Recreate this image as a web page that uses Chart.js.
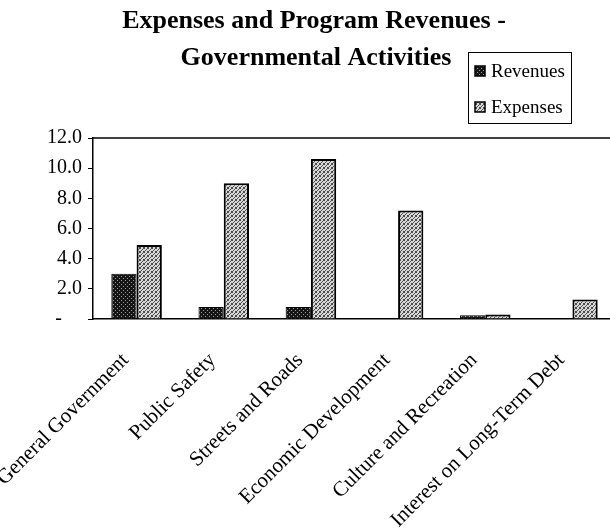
<!DOCTYPE html>
<html>
<head>
<meta charset="utf-8">
<script src="https://cdn.jsdelivr.net/npm/chart.js@4"></script>
<style>
  html, body { margin: 0; padding: 0; background: #fff; overflow: hidden; }
  #wrap { width: 616px; height: 531px; }
</style>
</head>
<body>
<div id="wrap"><canvas id="chart" width="616" height="531"></canvas></div>
<script>
'use strict';

// values in millions
const categories = [
  'General Government',
  'Public Safety',
  'Streets and Roads',
  'Economic Development',
  'Culture and Recreation',
  'Interest on Long-Term Debt',
];
const revenues = [3.0, 0.8, 0.8, 0, 0.25, 0];
const expenses = [4.9, 9.0, 10.6, 7.2, 0.3, 1.3];
const titleLines = ['Expenses and Program Revenues -', 'Governmental Activities'];
const seriesNames = ['Revenues', 'Expenses'];

// small dither tiles to imitate the scanned fills
function makePattern(base, dots, dotColor) {
  const c = document.createElement('canvas');
  c.width = 4;
  c.height = 4;
  const g = c.getContext('2d');
  g.fillStyle = base;
  g.fillRect(0, 0, 4, 4);
  g.fillStyle = dotColor;
  dots.forEach(([x, y]) => g.fillRect(x, y, 1, 1));
  return g.createPattern(c, 'repeat');
}

const ctx = document.getElementById('chart').getContext('2d');
const revFill = makePattern('#151515', [[1, 0], [3, 2]], '#9a9a9a');
const expFill = makePattern('#d8d8d8', [[0, 0], [2, 1], [1, 2], [3, 3], [3, 0], [0, 3]], '#4a4a4a');

const serif = '"Liberation Serif", "DejaVu Serif", serif';

// title + boxed legend, drawn where the original has them
const headerPlugin = {
  id: 'header',
  afterDraw(chart) {
    const g = chart.ctx;
    const area = chart.chartArea;
    g.save();

    // frame line along the top of the plot
    g.strokeStyle = '#000';
    g.lineWidth = 1.5;
    g.beginPath();
    g.moveTo(area.left, area.top);
    g.lineTo(area.right, area.top);
    g.stroke();

    g.fillStyle = '#000';
    g.font = 'bold 26px ' + serif;
    g.textAlign = 'center';
    g.textBaseline = 'middle';
    g.fillText(titleLines[0], 314, 21);
    g.fillText(titleLines[1], 316, 58);

    // legend
    const box = { x: 468, y: 52, w: 103, h: 71 };
    g.lineWidth = 1;
    g.strokeRect(box.x + 0.5, box.y + 0.5, box.w, box.h);
    g.font = '19px ' + serif;
    g.textAlign = 'left';
    chart.data.datasets.forEach((ds, i) => {
      const cy = box.y + 19 + i * 36;
      g.fillStyle = ds.backgroundColor;
      g.fillRect(box.x + 7, cy - 5, 10, 10);
      g.strokeStyle = '#000';
      g.lineWidth = 1.5;
      g.strokeRect(box.x + 7, cy - 5, 10, 10);
      g.fillStyle = '#000';
      g.fillText(ds.label, box.x + 23, cy + 1);
    });
    g.restore();
  },
};

new Chart(ctx, {
  type: 'bar',
  data: {
    labels: categories,
    datasets: [
      {
        label: seriesNames[0],
        data: revenues,
        backgroundColor: revFill,
        borderColor: '#000',
        borderWidth: 1,
      },
      {
        label: seriesNames[1],
        data: expenses,
        backgroundColor: expFill,
        borderColor: '#000',
        borderWidth: 2,
      },
    ],
  },
  options: {
    responsive: false,
    animation: false,
    layout: { padding: { top: 138, left: 0, right: 0, bottom: 0 } },
    datasets: {
      bar: { categoryPercentage: 0.58, barPercentage: 1.0 },
    },
    plugins: {
      legend: { display: false },
      title: { display: false },
      tooltip: { enabled: false },
    },
    scales: {
      y: {
        min: 0,
        max: 12,
        afterFit(scale) { scale.width = 93; },
        ticks: {
          stepSize: 2,
          color: '#000',
          padding: 6,
          font: { family: serif, size: 20 },
          callback: (v) => (v === 0 ? '-    ' : v.toFixed(1)),
        },
        grid: { drawOnChartArea: false, tickLength: 5, color: '#000' },
        border: { color: '#000', width: 1.5 },
      },
      x: {
        afterFit(scale) {
          scale.height = 212;
          // long rotated labels may run off the left edge, as in the original
          scale.paddingLeft = 0;
          scale.paddingRight = 0;
        },
        ticks: {
          color: '#000',
          minRotation: 45,
          maxRotation: 45,
          autoSkip: false,
          padding: 10,
          font: { family: serif, size: 21 },
          callback(value) { return this.getLabelForValue(value) + '   '; },
        },
        grid: { display: false },
        border: { color: '#000', width: 1.5 },
      },
    },
  },
  plugins: [headerPlugin],
});
</script>
</body>
</html>
